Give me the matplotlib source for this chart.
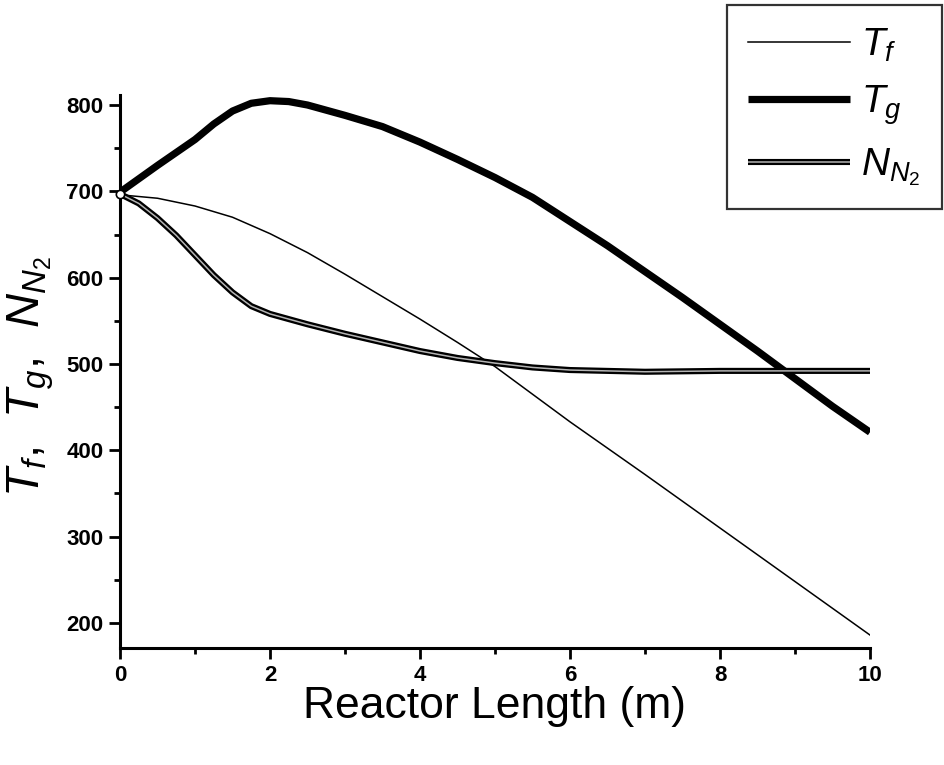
import matplotlib
matplotlib.use("Agg")
import matplotlib.pyplot as plt
from matplotlib.ticker import MultipleLocator
from matplotlib.legend_handler import HandlerTuple

plt.rcParams['font.family'] = ['Liberation Sans', 'DejaVu Sans']
plt.rcParams['mathtext.fontset'] = 'custom'
plt.rcParams['mathtext.it'] = 'Liberation Sans:italic'
plt.rcParams['mathtext.rm'] = 'Liberation Sans'
plt.rcParams['mathtext.bf'] = 'Liberation Sans:bold'

# Reactor length (m) and profiles
x_tf = [0, 0.5, 1.0, 1.5, 2.0, 2.5, 3.0, 3.5, 4.0, 4.5, 5.0, 5.5, 6.0, 7.0, 8.0, 9.0, 10.0]
t_f = [696, 692, 683, 670, 651, 629, 604, 578, 552, 525, 497, 465, 433, 372, 310, 248, 186]

x_tg = [0, 0.5, 1.0, 1.25, 1.5, 1.75, 2.0, 2.25, 2.5, 3.0, 3.5, 4.0, 4.5, 5.0,
        5.5, 6.0, 6.5, 7.0, 7.5, 8.0, 8.5, 9.0, 9.5, 10.0]
t_g = [699, 730, 760, 778, 793, 802, 805, 804, 800, 788, 775, 757, 737, 716,
       693, 665, 637, 607, 577, 546, 515, 483, 451, 421]

x_nn2 = [0, 0.25, 0.5, 0.75, 1.0, 1.25, 1.5, 1.75, 2.0, 2.5, 3.0, 3.5, 4.0,
         4.5, 5.0, 5.5, 6.0, 7.0, 8.0, 9.0, 10.0]
n_n2 = [697, 686, 669, 649, 626, 603, 583, 567, 558, 546, 535, 525, 515,
        507, 501, 496, 493, 491, 492, 492, 492]

x_ticks = [0, 2, 4, 6, 8, 10]
y_ticks = [200, 300, 400, 500, 600, 700, 800]

fig = plt.figure(figsize=(9.45, 7.65), dpi=100)
ax = fig.add_axes([0.12698, 0.15294, 0.79365, 0.72288])

l_tf, = ax.plot(x_tf, t_f, color='black', lw=1.1)
l_tg, = ax.plot(x_tg, t_g, color='black', lw=5.2, solid_capstyle='butt')
l_n_out, = ax.plot(x_nn2, n_n2, color='black', lw=4.4, solid_capstyle='butt')
l_n_in, = ax.plot(x_nn2, n_n2, color='#b4b4b4', lw=1.1, solid_capstyle='butt')
ax.plot(x_nn2[:1], n_n2[:1], marker='o', ms=6, mfc='white', mec='black',
        mew=1.2, ls='none', clip_on=False, zorder=5)

ax.set_xlim(0, 10)
ax.set_ylim(171, 811.6)
ax.set_xticks(x_ticks)
ax.set_yticks(y_ticks)
ax.xaxis.set_minor_locator(MultipleLocator(1))
ax.yaxis.set_minor_locator(MultipleLocator(50))

for side in ('top', 'right'):
    ax.spines[side].set_visible(False)
for side in ('left', 'bottom'):
    ax.spines[side].set_linewidth(2.2)

ax.tick_params(which='major', direction='out', length=8, width=2.0, pad=4)
ax.tick_params(which='minor', direction='out', length=4, width=2.0)
for lab in ax.get_xticklabels() + ax.get_yticklabels():
    lab.set_fontsize(16)
    lab.set_fontweight('bold')

ax.set_xlabel('Reactor Length (m)', fontsize=32)
ax.xaxis.set_label_coords(0.5, -0.069)
ax.xaxis.label.set_va('top')

ax.set_ylabel(r'$T_f,\ \,T_g,\ \,N_{N_2}$', fontsize=34)
ax.yaxis.set_label_coords(-0.085, 0.49)

leg = fig.legend([l_tf, l_tg, (l_n_out, l_n_in)],
                 [r'$T_f$', r'$T_g$', r'$N_{N_2}$'],
                 handler_map={tuple: HandlerTuple(ndivide=1)},
                 loc='upper right', bbox_to_anchor=(942 / 945, 1 - 5 / 765),
                 borderaxespad=0, fontsize=28, fancybox=False,
                 handlelength=2.6, handletextpad=0.3, labelspacing=0.5,
                 borderpad=0.55, frameon=True)
leg.get_frame().set_edgecolor('black')
leg.get_frame().set_linewidth(1.6)

fig.savefig('out.png', dpi=100)
